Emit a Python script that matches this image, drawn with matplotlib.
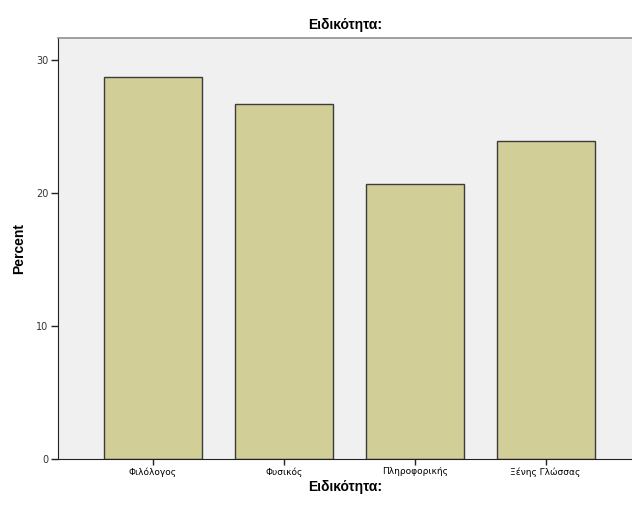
import matplotlib
matplotlib.use("Agg")
import matplotlib.pyplot as plt

# data
categories = ["Φιλόλογος", "Φυσικός", "Πληροφορικής", "Ξένης Γλώσσας"]
percent = [28.7, 26.7, 20.7, 23.9]
yticks = [0, 10, 20, 30]

fig = plt.figure(figsize=(6.32, 5.07), dpi=100)
ax = fig.add_axes([58 / 632, 48 / 507, 1 - 58 / 632, (459 - 38) / 507])
ax.set_facecolor("#F0F0F0")

x = range(len(categories))
ax.bar(x, percent, width=0.75, color="#D2CE98", edgecolor="#3C3C3C", linewidth=1.0, zorder=2)

ax.set_xlim(-0.725, 3.66)
ax.set_ylim(0, 31.65)
ax.set_xticks(list(x))
ax.set_xticklabels(categories, fontsize=6.5, family="DejaVu Sans")
ax.set_yticks(yticks)
ax.set_yticklabels([str(t) for t in yticks], fontsize=7, family="DejaVu Sans", color="#333333")
ax.tick_params(axis="both", length=5, width=1, color="#222222", pad=2)
ax.tick_params(axis="x", direction="inout", length=8)

ax.spines["right"].set_visible(False)
ax.spines["top"].set_color("#909090")
ax.spines["top"].set_linewidth(1.2)
ax.spines["left"].set_color("#222222")
ax.spines["bottom"].set_color("#222222")

ax.set_ylabel("Percent", fontsize=10, fontweight="bold", family="Liberation Sans")
ax.yaxis.set_label_coords((26 - 58) / 574, 0.5)
ax.set_xlabel("Ειδικότητα:", fontsize=10, fontweight="bold", family="Liberation Sans")
ax.xaxis.set_label_coords((345 - 58) / 574, -(480 - 459) / 421)
fig.text(345 / 632, 1 - 25 / 507, "Ειδικότητα:", ha="center", va="center",
         fontsize=10, fontweight="bold", family="Liberation Sans")

fig.savefig("out.png", dpi=100)
